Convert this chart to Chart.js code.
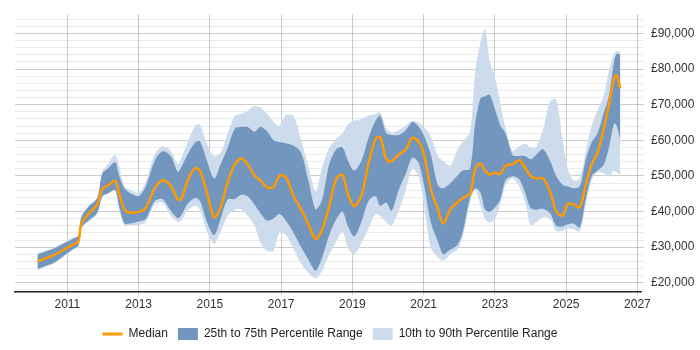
<!DOCTYPE html>
<html>
<head>
<meta charset="utf-8">
<script src="https://cdn.jsdelivr.net/npm/chart.js@4/dist/chart.umd.min.js"></script>
<style>
  html, body { margin: 0; padding: 0; background: #fff; }
</style>
</head>
<body>
<canvas id="salaryChart" width="700" height="350"></canvas>
<script>
// decimal years for each sample
const dates = [
  2010.16, 2010.4, 2010.63, 2010.9, 2011.15, 2011.31, 2011.39, 2011.6, 2011.84, 2011.98,
  2012.15, 2012.34, 2012.45, 2012.6, 2012.75, 2013.0, 2013.2, 2013.45, 2013.67, 2013.9,
  2014.1, 2014.2, 2014.4, 2014.6, 2014.72, 2014.92, 2015.12, 2015.3, 2015.5, 2015.7,
  2015.88, 2016.06, 2016.25, 2016.42, 2016.6, 2016.78, 2016.95, 2017.13, 2017.35, 2017.56,
  2017.78, 2017.97, 2018.15, 2018.35, 2018.55, 2018.72, 2018.88, 2019.05, 2019.25, 2019.45,
  2019.65, 2019.78, 2019.95, 2020.1, 2020.3, 2020.5, 2020.68, 2020.85, 2021.0, 2021.2,
  2021.4, 2021.55, 2021.75, 2021.95, 2022.1, 2022.3, 2022.45, 2022.6, 2022.72, 2022.85,
  2023.0, 2023.15, 2023.3, 2023.5, 2023.68, 2023.85, 2024.0, 2024.15, 2024.35, 2024.55,
  2024.72, 2024.9, 2025.05, 2025.2, 2025.38, 2025.55, 2025.72, 2025.88, 2026.05, 2026.2,
  2026.35, 2026.42, 2026.52
];

const median = [
  26000, 26900, 27800, 29300, 30700, 31600, 36600, 39400, 42000, 46300,
  47400, 48600, 45200, 40600, 39700, 39900, 41000, 46500, 48800, 47200,
  43400, 43500, 49300, 52200, 51500, 45200, 38400, 41100, 48300, 53300,
  54900, 53300, 50100, 48700, 46800, 46800, 50000, 49700, 44300, 40600,
  36100, 32300, 34800, 41600, 49300, 50300, 44700, 41500, 44300, 53300,
  60400, 60900, 54700, 54100, 56000, 57400, 60700, 59700, 56500, 46300,
  40600, 36600, 40600, 42600, 43800, 45000, 52000, 53500, 51500, 50400,
  50900, 50600, 52900, 53300, 54400, 52200, 50000, 49300, 49300, 45500,
  40000, 38800, 42200, 42000, 41200, 47500, 53300, 56500, 63000, 70000,
  77500, 78200, 74600
];

const p75 = [
  28000, 28800, 29600, 31000, 32300, 33200, 38400, 41400, 43800, 50600,
  52200, 53800, 50100, 46500, 45200, 44300, 47000, 54200, 56900, 55600,
  51100, 52500, 56500, 59500, 59700, 54200, 49300, 53300, 57900, 63300,
  63700, 63700, 62400, 63800, 62600, 60100, 59500, 59200, 58500, 56500,
  48000, 40600, 43400, 53300, 57500, 58000, 54200, 51500, 54200, 60600,
  65500, 66900, 62000, 61500, 61500, 62800, 65100, 63900, 61500, 56000,
  47400, 46500, 47900, 50100, 51500, 52000, 65100, 71900, 72300, 72800,
  68700, 64200, 61900, 55800, 55600, 55600, 54700, 55800, 57500, 54200,
  50000, 47500, 47000, 46500, 47000, 54500, 59500, 62000, 67500, 72500,
  82500, 84200, 84100
];

const p25 = [
  23900, 24800, 25700, 27600, 29400, 30500, 35500, 37500, 39700, 44300,
  45200, 46100, 41600, 36600, 36600, 37200, 37900, 42900, 43500, 40200,
  38100, 39000, 42500, 43800, 43000, 37000, 33400, 37900, 43400, 43500,
  44700, 44300, 42000, 39500, 37500, 38000, 39300, 37500, 34000, 30000,
  26200, 23400, 27100, 33400, 37900, 40000, 35700, 33000, 37000, 42900,
  44300, 41600, 42500, 40200, 46100, 50600, 55100, 53800, 47900, 37000,
  31600, 28000, 29300, 30700, 34300, 43800, 46500, 45200, 40600, 39900,
  41100, 43400, 48800, 49900, 49100, 45200, 41000, 40500, 40800, 39500,
  36000, 35800, 36400, 36600, 35500, 43500, 50000, 51500, 53000, 58000,
  64800, 64000, 60100
];

const p90 = [
  28300, 29100, 29900, 31300, 32600, 33500, 38700, 41700, 44100, 51100,
  53500, 55900, 52900, 47000, 46100, 45200, 48400, 56000, 58300, 57000,
  53300, 55000, 60100, 64200, 64400, 58800, 55600, 56500, 61900, 66900,
  67400, 68300, 69600, 69200, 67500, 65300, 64000, 67000, 66800, 60000,
  52000, 45600, 52400, 57900, 60500, 62000, 64600, 65500, 66000, 66900,
  67400, 67800, 63500, 62200, 62800, 64200, 65500, 65000, 63700, 61000,
  55600, 54200, 52900, 57400, 59700, 62400, 79600, 87700, 91300, 82500,
  77800, 70500, 63300, 57000, 58300, 59000, 57900, 57900, 63000, 71000,
  71500, 60000, 52000, 48800, 49300, 57000, 64200, 68500, 72500, 79500,
  84500, 85000, 84800
];

const p10 = [
  23600, 24500, 25400, 27300, 29100, 30200, 35200, 37200, 39400, 44000,
  45000, 45800, 40600, 36100, 36100, 36300, 37000, 42000, 42500, 38800,
  37000, 37500, 40600, 41600, 40500, 34300, 30900, 34300, 38800, 40500,
  40600, 38800, 36100, 31300, 29000, 29000, 34000, 33500, 29500, 25300,
  22600, 21300, 23400, 28000, 31600, 34300, 29800, 28000, 31100, 35200,
  39300, 38800, 37000, 36100, 40200, 46100, 52000, 50100, 42500, 29800,
  27100, 26200, 28000, 29300, 33000, 42500, 46100, 41600, 37900, 37000,
  37900, 42000, 47400, 49300, 47000, 42500, 36100, 37000, 38400, 38000,
  34500, 34600, 35200, 35000, 34500, 42000, 49000, 51000, 50800, 49800,
  51500, 51000, 50100
];

const xTickYears = [2011, 2013, 2015, 2017, 2019, 2021, 2023, 2025, 2027];
const yLabelValues = [20000, 30000, 40000, 50000, 60000, 70000, 80000, 90000];

Chart.defaults.font.family = "'Liberation Sans', Arial, sans-serif";
Chart.defaults.font.size = 12;
Chart.defaults.color = '#333';

function toPoints(values) {
  return values.map((v, i) => ({ x: dates[i], y: v }));
}

// centre the legend under the plot area instead of the whole canvas
const legendUnderPlot = {
  id: 'legendUnderPlot',
  afterLayout(chart) {
    const lg = chart.legend;
    if (!lg) return;
    lg.left = chart.chartArea.left;
    lg.right = chart.chartArea.right + 4;
    lg.width = lg.right - lg.left;
  }
};

const ctx = document.getElementById('salaryChart').getContext('2d');

new Chart(ctx, {
  type: 'line',
  data: {
    datasets: [
      {
        label: 'Median',
        data: toPoints(median),
        borderColor: '#ff9900',
        backgroundColor: '#ff9900',
        borderWidth: 2.5,
        pointRadius: 0,
        tension: 0.3,
        fill: false,
        order: 0
      },
      {
        label: '25th to 75th Percentile Range',
        data: toPoints(p75),
        borderWidth: 0,
        borderColor: 'rgba(0,0,0,0)',
        backgroundColor: '#7396be',
        pointRadius: 0,
        tension: 0.3,
        fill: 2,
        order: 1
      },
      {
        label: '',
        data: toPoints(p25),
        borderWidth: 0,
        borderColor: 'rgba(0,0,0,0)',
        pointRadius: 0,
        tension: 0.3,
        fill: false,
        order: 1
      },
      {
        label: '10th to 90th Percentile Range',
        data: toPoints(p90),
        borderWidth: 0,
        borderColor: 'rgba(0,0,0,0)',
        backgroundColor: '#ccdcec',
        pointRadius: 0,
        tension: 0.3,
        fill: 4,
        order: 2
      },
      {
        label: '',
        data: toPoints(p10),
        borderWidth: 0,
        borderColor: 'rgba(0,0,0,0)',
        pointRadius: 0,
        tension: 0.3,
        fill: false,
        order: 2
      }
    ]
  },
  options: {
    responsive: false,
    animation: false,
    layout: { padding: { left: 15, top: 5, right: 0, bottom: 0 } },
    scales: {
      x: {
        type: 'linear',
        min: 2009.53,
        max: 2027.1,
        afterBuildTicks: (scale) => {
          scale.ticks = xTickYears.map(v => ({ value: v }));
        },
        afterFit: (scale) => { scale.height = 26; },
        ticks: {
          autoSkip: false,
          maxRotation: 0,
          padding: 2,
          callback: (v) => String(v)
        },
        grid: {
          color: 'rgba(0,0,0,0.2)',
          tickLength: 3
        },
        border: { color: '#222', width: 1.5 }
      },
      y: {
        position: 'right',
        min: 17400,
        max: 95400,
        afterBuildTicks: (scale) => {
          const ticks = [];
          for (let v = 18000; v <= 94000; v += 2000) ticks.push({ value: v });
          scale.ticks = ticks;
        },
        afterFit: (scale) => { scale.width = 59; },
        ticks: {
          autoSkip: false,
          padding: 7,
          callback: (v) => yLabelValues.includes(v) ? '£' + v.toLocaleString('en-GB') : ''
        },
        grid: {
          tickLength: 3,
          color: (c) => (c.tick && c.tick.value % 10000 === 0) ? 'rgba(0,0,0,0.2)' : 'rgba(0,0,0,0.08)'
        },
        border: { display: false }
      }
    },
    plugins: {
      tooltip: { enabled: false },
      legend: {
        position: 'bottom',
        labels: {
          usePointStyle: true,
          pointStyleWidth: 20,
          boxHeight: 12,
          padding: 10,
          color: '#222',
          generateLabels: (chart) => {
            const items = Chart.defaults.plugins.legend.labels.generateLabels(chart);
            return items.filter(it => it.text).map(it => {
              if (it.datasetIndex === 0) {
                it.pointStyle = 'line';
                it.strokeStyle = '#ff9900';
                it.lineWidth = 3;
              } else {
                it.pointStyle = 'rect';
                it.lineWidth = 0;
              }
              return it;
            });
          }
        }
      }
    }
  },
  plugins: [legendUnderPlot]
});
</script>
</body>
</html>
